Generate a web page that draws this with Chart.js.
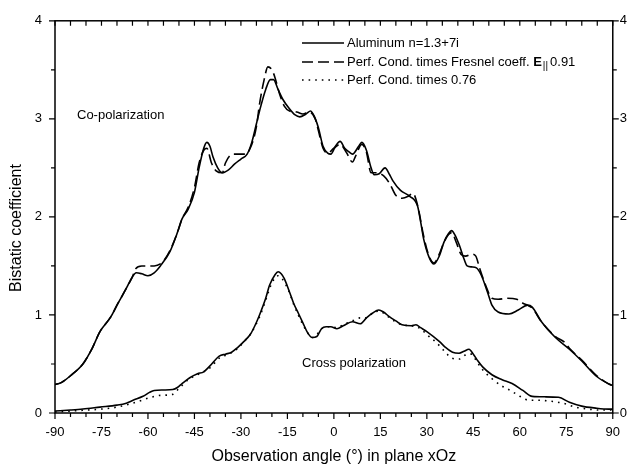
<!DOCTYPE html>
<html>
<head>
<meta charset="utf-8">
<script src="https://cdn.jsdelivr.net/npm/chart.js@4.4.0/dist/chart.umd.min.js"></script>
<style>
    body { margin: 0; background: #fff; }
    canvas { display: block; }
</style>
</head>
<body>
<canvas id="chart" width="632" height="468"></canvas>
<script>
// Bistatic coefficient vs observation angle

// Co-polarization, Aluminum n=1.3+7i
const coAluAngles = [-90, -88, -85, -81, -78, -75.5, -72, -70, -67, -65, -63.8, -62, -60, -58, -56, -53, -50.5, -49, -47, -45,
    -43.5, -42, -41, -40, -39, -37.5, -36, -34, -32, -30, -28, -26.5, -25, -24, -22, -20.5, -19.5, -18, -16.5, -14.5,
    -12.5, -11, -9, -7.5, -6, -5, -3.5, -2, -1, 0.5, 2, 3.5, 5, 6, 8, 9, 10.5, 12, 13, 14.6,
    16.5, 18, 19, 21.5, 24.5, 27, 28, 29, 30.7, 32.3, 34, 35.5, 37, 38, 39, 40.5, 42, 43, 44.5, 46,
    47.5, 49.5, 51, 53, 56.5, 59.5, 62.5, 64, 67, 71.5, 76, 80, 84.5, 88.5, 90];
const coAluminum = [0.29, 0.31, 0.38, 0.50, 0.66, 0.83, 0.98, 1.10, 1.27, 1.39, 1.43, 1.42, 1.40, 1.43, 1.50, 1.64, 1.84, 1.98, 2.08, 2.25,
    2.50, 2.70, 2.76, 2.72, 2.61, 2.50, 2.45, 2.48, 2.54, 2.59, 2.64, 2.76, 2.95, 3.08, 3.30, 3.40, 3.40, 3.30, 3.20, 3.11,
    3.04, 3.02, 3.05, 3.08, 3.00, 2.91, 2.72, 2.65, 2.64, 2.72, 2.77, 2.70, 2.66, 2.64, 2.72, 2.76, 2.68, 2.50, 2.43, 2.44,
    2.50, 2.43, 2.37, 2.27, 2.21, 2.11, 1.95, 1.77, 1.59, 1.52, 1.60, 1.74, 1.83, 1.86, 1.82, 1.71, 1.57, 1.50, 1.49, 1.48,
    1.41, 1.24, 1.10, 1.03, 1.01, 1.05, 1.10, 1.08, 0.93, 0.77, 0.65, 0.53, 0.38, 0.30, 0.28];

// Co-polarization, perfect conductor times Fresnel coefficient
const coFresAngles = [-90, -88, -85, -81, -78, -75.5, -72, -70, -67, -65, -64, -62, -58, -56, -54.5, -53, -50.5, -49, -47, -45,
    -43.5, -42, -41, -39.5, -38, -36, -35, -32.6, -28.6, -27, -25, -24, -22.5, -21.3, -20, -19, -17.5, -16, -14.3, -12,
    -10, -8, -6, -5, -3.5, -2, 0, 2, 4, 6, 7, 9, 10.5, 12, 14, 16, 18, 20, 22, 24,
    25.5, 27, 29, 30.7, 32.3, 34, 35.5, 37, 38, 39.5, 41, 42.5, 44.5, 45.8, 47, 49, 51, 53, 56, 59,
    61, 62.5, 64, 67, 71.5, 74.5, 76, 80, 84.5, 88.5, 90];
const coFresnel = [0.29, 0.31, 0.38, 0.50, 0.66, 0.83, 0.98, 1.10, 1.27, 1.39, 1.47, 1.50, 1.50, 1.52, 1.57, 1.65, 1.84, 1.98, 2.10, 2.30,
    2.55, 2.68, 2.70, 2.55, 2.47, 2.45, 2.55, 2.64, 2.64, 2.70, 2.92, 3.15, 3.40, 3.53, 3.50, 3.42, 3.25, 3.13, 3.08, 3.07,
    3.05, 3.07, 3.00, 2.88, 2.70, 2.65, 2.70, 2.74, 2.66, 2.56, 2.62, 2.74, 2.66, 2.45, 2.45, 2.42, 2.34, 2.22, 2.19, 2.21,
    2.24, 2.12, 1.80, 1.60, 1.53, 1.62, 1.74, 1.82, 1.84, 1.74, 1.62, 1.60, 1.62, 1.60, 1.48, 1.30, 1.17, 1.16, 1.17, 1.16,
    1.12, 1.10, 1.07, 0.93, 0.78, 0.72, 0.66, 0.54, 0.39, 0.30, 0.28];

// Cross polarization, Aluminum
const crossAluAngles = [-90, -85, -81, -75.5, -70, -67, -64.8, -61.6, -59.5, -58, -55, -52, -50.5, -49, -46.5, -44, -42, -40, -37, -35,
    -33, -31, -29, -27, -25.5, -24, -22, -20.8, -19, -18, -17, -16, -14.5, -13, -11.5, -10, -8.5, -7, -5.5, -4,
    -2.5, -1, 1, 3, 6, 8.5, 10.5, 12.5, 14.5, 16, 18, 20, 22, 25, 26.5, 28, 30, 34, 36, 38.3,
    40.4, 42, 43.6, 45, 46.5, 48, 51, 54.3, 57.5, 61, 64, 68, 72.5, 76, 80, 84.5, 88.7, 90];
const crossAluminum = [0.02, 0.03, 0.04, 0.06, 0.08, 0.10, 0.13, 0.17, 0.21, 0.23, 0.235, 0.24, 0.26, 0.30, 0.36, 0.40, 0.42, 0.48, 0.58, 0.60,
    0.62, 0.67, 0.73, 0.80, 0.89, 1.00, 1.17, 1.30, 1.41, 1.44, 1.42, 1.37, 1.25, 1.12, 1.02, 0.92, 0.82, 0.77, 0.78, 0.86,
    0.88, 0.88, 0.86, 0.89, 0.93, 0.91, 0.97, 1.02, 1.05, 1.03, 0.98, 0.94, 0.90, 0.89, 0.90, 0.87, 0.83, 0.73, 0.67, 0.62,
    0.61, 0.63, 0.65, 0.60, 0.53, 0.47, 0.39, 0.34, 0.30, 0.23, 0.17, 0.165, 0.16, 0.11, 0.07, 0.05, 0.04, 0.04];

// Cross polarization, perfect conductor times 0.76
const crossPcAngles = [-90, -85, -80, -75, -70, -65, -62, -59, -56, -52, -50, -47, -44, -40, -37, -34, -31, -29, -27, -24,
    -22, -20.5, -19, -18, -16.5, -14.5, -13, -11.5, -10, -8.5, -7, -5.5, -4, -1, 1, 3, 6, 8.5, 10.5, 12.5,
    14.5, 16, 18, 20, 22, 25, 28, 30, 33, 36, 38, 40.5, 43, 44.5, 46, 48, 51, 54, 57.5, 60,
    63, 66, 70, 74, 78, 82, 86, 90];
const crossPc = [0.01, 0.02, 0.03, 0.04, 0.06, 0.10, 0.13, 0.16, 0.18, 0.19, 0.25, 0.34, 0.39, 0.46, 0.56, 0.60, 0.66, 0.73, 0.80, 0.98,
    1.15, 1.29, 1.38, 1.40, 1.36, 1.24, 1.11, 1.00, 0.90, 0.82, 0.77, 0.80, 0.86, 0.88, 0.87, 0.90, 0.94, 0.97, 0.97, 1.02,
    1.04, 1.02, 0.97, 0.93, 0.90, 0.89, 0.86, 0.80, 0.72, 0.62, 0.56, 0.55, 0.60, 0.60, 0.53, 0.44, 0.35, 0.28, 0.22, 0.17,
    0.13, 0.13, 0.12, 0.10, 0.06, 0.04, 0.03, 0.03];

const xTicks = [-90, -75, -60, -45, -30, -15, 0, 15, 30, 45, 60, 75, 90];
const yTicks = [0, 1, 2, 3, 4];

const legendLabels = ['Aluminum n=1.3+7i', 'Perf. Cond. times Fresnel coeff. E', 'Perf. Cond. times 0.76'];

const FONT = '"Liberation Sans", Arial, sans-serif';

function points(angles, vals) {
    return angles.map((a, i) => ({ x: a, y: vals[i] }));
}

function lineSet(label, angles, vals, dash) {
    return {
        label: label,
        data: points(angles, vals),
        borderColor: '#000',
        borderWidth: 1.6,
        borderDash: dash,
        pointRadius: 0,
        fill: false,
        cubicInterpolationMode: 'monotone'
    };
}

// frame, minor/major ticks, legend and text notes
const decorPlugin = {
    id: 'decor',
    afterDraw(chart) {
        const { ctx, chartArea: a, scales } = chart;
        const xs = scales.x, ys = scales.y;
        ctx.save();
        ctx.strokeStyle = '#000';
        ctx.lineWidth = 1.5;
        ctx.strokeRect(a.left, a.top, a.right - a.left, a.bottom - a.top);

        ctx.lineWidth = 1.2;
        ctx.beginPath();
        for (let v = -90; v <= 90; v += 5) {
            const px = xs.getPixelForValue(v);
            const len = v % 15 === 0 ? 6 : 4;
            ctx.moveTo(px, a.bottom); ctx.lineTo(px, a.bottom + len);
            ctx.moveTo(px, a.top); ctx.lineTo(px, a.top + 5);
        }
        for (let v = 0; v <= 4; v += 0.5) {
            const py = ys.getPixelForValue(v);
            const len = v % 1 === 0 ? 6 : 4;
            ctx.moveTo(a.left, py); ctx.lineTo(a.left - len, py);
            ctx.moveTo(a.right, py); ctx.lineTo(a.right + len, py);
        }
        ctx.stroke();

        // y axis title
        ctx.fillStyle = '#000';
        ctx.font = '16px ' + FONT;
        ctx.textAlign = 'center';
        ctx.textBaseline = 'middle';
        ctx.save();
        ctx.translate(17, 228);
        ctx.rotate(-Math.PI / 2);
        ctx.fillText('Bistatic coefficient', 0, 0);
        ctx.restore();

        // curve notes
        ctx.font = '13px ' + FONT;
        ctx.textAlign = 'left';
        ctx.fillText('Co-polarization', 77, 115);
        ctx.fillText('Cross polarization', 302, 363);

        // legend
        const rows = [
            { y: 43, ds: chart.data.datasets[0] },
            { y: 62, ds: chart.data.datasets[1] },
            { y: 80, ds: chart.data.datasets[3] }
        ];
        rows.forEach((r, i) => {
            ctx.lineWidth = 1.6;
            ctx.setLineDash(r.ds.borderDash || []);
            ctx.beginPath();
            ctx.moveTo(302, r.y);
            ctx.lineTo(344, r.y);
            ctx.stroke();
            ctx.setLineDash([]);
            ctx.font = '13px ' + FONT;
            ctx.fillText(legendLabels[i], 347, r.y);
            if (i === 1) {
                let x = 347 + ctx.measureText(legendLabels[i]).width;
                ctx.font = 'bold 13px ' + FONT;
                x -= ctx.measureText('E').width;
                // redraw E in bold over the regular one
                ctx.fillStyle = '#fff';
                ctx.fillRect(x, r.y - 8, ctx.measureText('E').width + 1, 16);
                ctx.fillStyle = '#000';
                ctx.fillText('E', x, r.y);
                x += ctx.measureText('E').width + 1;
                ctx.font = '10px ' + FONT;
                ctx.fillText('||', x, r.y + 4);
                x += ctx.measureText('||').width + 2;
                ctx.font = '13px ' + FONT;
                ctx.fillText('0.91', x, r.y);
            }
        });
        ctx.restore();
    }
};

const noGrid = { display: false, drawTicks: false, tickLength: 0 };

new Chart(document.getElementById('chart').getContext('2d'), {
    type: 'line',
    data: {
        datasets: [
            lineSet('Aluminum co', coAluAngles, coAluminum, []),
            lineSet('Fresnel co', coFresAngles, coFresnel, [11, 5]),
            lineSet('Aluminum cross', crossAluAngles, crossAluminum, []),
            lineSet('PC cross', crossPcAngles, crossPc, [1.6, 5])
        ]
    },
    options: {
        responsive: false,
        animation: false,
        layout: { padding: { top: 15, left: 0, right: 0, bottom: 0 } },
        plugins: { legend: { display: false }, tooltip: { enabled: false } },
        scales: {
            x: {
                type: 'linear',
                min: -90, max: 90,
                afterBuildTicks: (s) => { s.ticks = xTicks.map(v => ({ value: v })); },
                afterFit: (s) => { s.height = 55; },
                grid: noGrid,
                border: { display: false },
                ticks: { color: '#000', font: { family: FONT, size: 13 }, padding: 12, maxRotation: 0, autoSkip: false },
                title: { display: true, text: 'Observation angle (°) in plane xOz', color: '#000', font: { family: FONT, size: 16 }, padding: { top: 0, bottom: 2 } }
            },
            y: {
                min: 0, max: 4,
                afterBuildTicks: (s) => { s.ticks = yTicks.map(v => ({ value: v })); },
                afterFit: (s) => { s.width = 55; },
                grid: noGrid,
                border: { display: false },
                ticks: { color: '#000', font: { family: FONT, size: 13 }, padding: 13 }
            },
            y2: {
                position: 'right',
                min: 0, max: 4,
                afterBuildTicks: (s) => { s.ticks = yTicks.map(v => ({ value: v })); },
                afterFit: (s) => { s.width = 18; },
                grid: noGrid,
                border: { display: false },
                ticks: { color: '#000', font: { family: FONT, size: 13 }, padding: 7 }
            }
        }
    },
    plugins: [decorPlugin]
});
</script>
</body>
</html>
